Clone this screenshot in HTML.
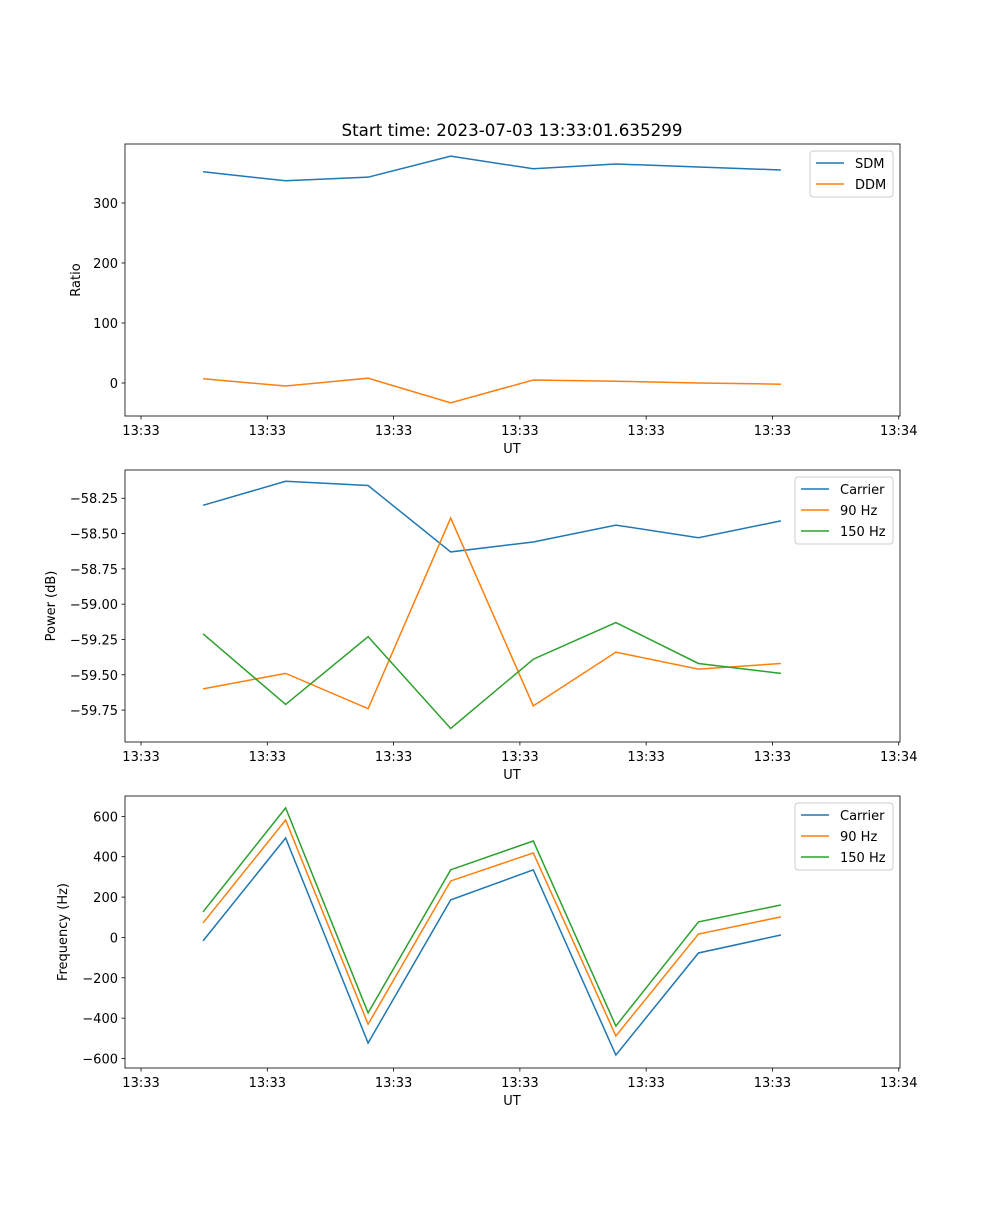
<!DOCTYPE html>
<html><head><meta charset="utf-8"><style>
body{margin:0;background:#fff}
svg text{font-family:"DejaVu Sans","Liberation Sans",sans-serif;fill:#000}
</style></head><body>
<svg id="fig" width="1000" height="1200" xmlns="http://www.w3.org/2000/svg">
<rect width="1000" height="1200" fill="#fff"/>
<text x="512" y="136" font-size="16.7" text-anchor="middle">Start time: 2023-07-03 13:33:01.635299</text>
</svg>
<script>
const times=[4.91,11.45,17.98,24.52,31.06,37.60,44.14,50.67];
const xTicks=[0,10,20,30,40,50,60];
const xTickLabels=["13:33","13:33","13:33","13:33","13:33","13:33","13:34"];
const sdm=[352,337,343,378,357,365,360,355];
const ddm=[7,-5,8,-33,5,3,0,-2];
const ratioTicks=[0,100,200,300];
const pCarrier=[-58.30,-58.13,-58.16,-58.63,-58.56,-58.44,-58.53,-58.41];
const p90=[-59.60,-59.49,-59.74,-58.39,-59.72,-59.34,-59.46,-59.42];
const p150=[-59.21,-59.71,-59.23,-59.88,-59.39,-59.13,-59.42,-59.49];
const powerTicks=[-59.75,-59.5,-59.25,-59.0,-58.75,-58.5,-58.25];
const fCarrier=[-17,493,-523,186,335,-583,-77,12];
const f90=[72,582,-430,280,419,-488,17,102];
const f150=[127,642,-374,335,478,-439,77,161];
const freqTicks=[-600,-400,-200,0,200,400,600];
const C=["#1f77b4","#ff7f0e","#2ca02c"];
const NS="http://www.w3.org/2000/svg";
const svg=document.getElementById('fig');
function el(t,a,p){const e=document.createElementNS(NS,t);for(const k in a)e.setAttribute(k,a[k]);(p||svg).appendChild(e);return e;}
const L=125,R=900,X0=-1.27,X1=60.1;
function xs(v){return L+(v-X0)/(X1-X0)*(R-L);}
function panel(name,top,bot,y0,y1,yt,fmt,ylabel,series,labels,legW){
  const g=el('g',{});
  
  
  const ys=v=>bot-(v-y0)/(y1-y0)*(bot-top);
  series.forEach((s,i)=>{
    const pl=el('polyline',{points:s.map((v,j)=>xs(times[j])+','+ys(v)).join(' '),fill:'none',stroke:C[i],'stroke-width':1.5},g);
    
    
  });
  el('rect',{x:L,y:top,width:R-L,height:bot-top,fill:'none',stroke:'#000','stroke-width':0.8},g);
  xTicks.forEach((t,i)=>{const x=xs(t);
    el('line',{x1:x,x2:x,y1:bot,y2:bot+3.5,stroke:'#000','stroke-width':0.8},g);
    const tx=el('text',{x:x,y:bot+19,'font-size':13,'text-anchor':'middle'},g);tx.textContent=xTickLabels[i];
    
    
  });
  yt.forEach(t=>{const y=ys(t);
    el('line',{x1:L,x2:L-3.5,y1:y,y2:y,stroke:'#000','stroke-width':0.8},g);
    const tx=el('text',{x:L-7,y:y+5,'font-size':13,'text-anchor':'end'},g);tx.textContent=fmt(t);
    
    
  });
  const xl=el('text',{x:512,y:bot+37,'font-size':13,'text-anchor':'middle'},g);xl.textContent='UT';
  
  
  const yx=ylabel.x;
  const yl=el('text',{x:yx,y:(top+bot)/2,'font-size':13,'text-anchor':'middle',transform:`rotate(-90 ${yx} ${(top+bot)/2})`},g);yl.textContent=ylabel.t;
  
  
  const lg=el('g',{},g);
  
  
  const lx=893-legW,ly=top+7;
  el('rect',{x:lx,y:ly,width:legW,height:4+labels.length*21,fill:'#fff',stroke:'#ccc',rx:3},lg);
  labels.forEach((lab,i)=>{const yy=ly+12+i*21;
    el('line',{x1:lx+6,x2:lx+34,y1:yy,y2:yy,stroke:C[i],'stroke-width':1.5},lg);
    const tx=el('text',{x:lx+45,y:yy+5,'font-size':13},lg);tx.textContent=lab;
    
    
  });
}
const minus=s=>s.replace('-','\u2212');
panel('ratio',144,416,-55,398.3,ratioTicks,t=>minus(String(t)),{x:80,t:'Ratio'},[sdm,ddm],['SDM','DDM'],83);
panel('power',470,742,-59.976,-58.05,powerTicks,t=>minus(t.toFixed(2)),{x:55,t:'Power (dB)'},[pCarrier,p90,p150],['Carrier','90 Hz','150 Hz'],98);
panel('frequency',796,1068,-647,701,freqTicks,t=>minus(String(t)),{x:67,t:'Frequency (Hz)'},[fCarrier,f90,f150],['Carrier','90 Hz','150 Hz'],98);
</script>
</body></html>
